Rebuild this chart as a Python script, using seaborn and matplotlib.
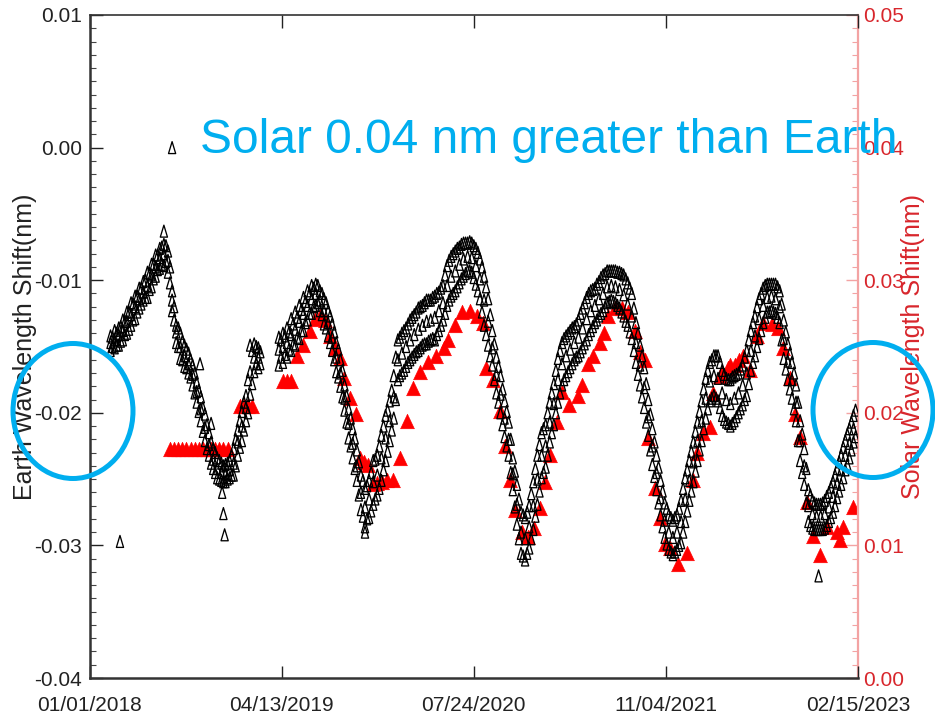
import numpy as np
import pandas as pd
import matplotlib
matplotlib.use("Agg")
import matplotlib.pyplot as plt
import matplotlib.dates as mdates
from matplotlib.path import Path
from matplotlib.patches import Ellipse
from matplotlib.ticker import FixedLocator, MultipleLocator, FuncFormatter
import seaborn as sns

# ---------------------------------------------------------------- data
START = pd.Timestamp("2018-01-01")
END = pd.Timestamp("2023-02-15")

# Earth-view wavelength shift (nm): upper, middle and lower edge of the daily scatter,
# sampled every 10 days from the start date
earth_day = list(range(50, 420, 10)) + list(range(460, 1870, 10))
earth_hi = [
    -0.0142, -0.0138, -0.0136, -0.0130, -0.0124, -0.0117, -0.0112, -0.0106, -0.0101, -0.0094,
    -0.0088, -0.0081, -0.0076, -0.0073, -0.0078, -0.0108, -0.0134, -0.0140, -0.0149, -0.0155,
    -0.0164, -0.0177, -0.0188, -0.0201, -0.0215, -0.0227, -0.0234, -0.0238, -0.0239, -0.0236,
    -0.0227, -0.0213, -0.0199, -0.0187, -0.0149, -0.0148, -0.0151,
    -0.0143, -0.0140, -0.0136, -0.0129, -0.0124, -0.0119, -0.0113, -0.0108, -0.0104, -0.0103,
    -0.0108, -0.0114, -0.0123, -0.0133, -0.0147, -0.0160, -0.0179, -0.0197, -0.0212, -0.0228,
    -0.0247, -0.0257, -0.0251, -0.0236, -0.0232, -0.0217, -0.0202, -0.0191, -0.0172, -0.0145,
    -0.0140, -0.0136, -0.0130, -0.0126, -0.0121, -0.0119, -0.0115, -0.0115, -0.0112, -0.0109,
    -0.0104, -0.0089, -0.0082, -0.0078, -0.0075, -0.0072, -0.0072, -0.0072, -0.0076, -0.0084,
    -0.0097, -0.0114, -0.0138, -0.0158, -0.0172, -0.0191, -0.0207, -0.0234, -0.0254, -0.0275,
    -0.0279, -0.0270, -0.0252, -0.0232, -0.0215, -0.0209, -0.0192, -0.0178, -0.0159, -0.0147,
    -0.0142, -0.0138, -0.0135, -0.0130, -0.0121, -0.0113, -0.0108, -0.0106, -0.0101, -0.0096,
    -0.0093, -0.0093, -0.0093, -0.0094, -0.0096, -0.0102, -0.0110, -0.0132, -0.0149, -0.0166,
    -0.0190, -0.0212, -0.0232, -0.0251, -0.0268, -0.0277, -0.0281, -0.0277, -0.0266, -0.0249,
    -0.0236, -0.0222, -0.0207, -0.0191, -0.0174, -0.0162, -0.0157, -0.0157, -0.0168, -0.0174,
    -0.0175, -0.0172, -0.0170, -0.0164, -0.0153, -0.0138, -0.0127, -0.0114, -0.0106, -0.0103,
    -0.0103, -0.0103, -0.0108, -0.0130, -0.0148, -0.0162, -0.0179, -0.0206, -0.0227, -0.0258,
    -0.0266, -0.0269, -0.0269, -0.0266, -0.0260, -0.0252, -0.0242, -0.0232, -0.0221, -0.0212,
    -0.0202,
]
earth_mid = [
    -0.0147, -0.0145, -0.0141, -0.0138, -0.0131, -0.0126, -0.0120, -0.0114, -0.0109, -0.0104,
    -0.0096, -0.0090, -0.0083, -0.0080, -0.0085, -0.0115, -0.0139, -0.0150, -0.0157, -0.0163,
    -0.0171, -0.0184, -0.0197, -0.0211, -0.0224, -0.0235, -0.0242, -0.0245, -0.0246, -0.0243,
    -0.0238, -0.0222, -0.0210, -0.0196, -0.0169, -0.0158, -0.0158,
    -0.0152, -0.0150, -0.0147, -0.0141, -0.0137, -0.0131, -0.0125, -0.0119, -0.0114, -0.0110,
    -0.0115, -0.0123, -0.0132, -0.0143, -0.0158, -0.0170, -0.0189, -0.0208, -0.0223, -0.0240,
    -0.0260, -0.0271, -0.0265, -0.0252, -0.0247, -0.0234, -0.0219, -0.0206, -0.0188, -0.0160,
    -0.0155, -0.0150, -0.0145, -0.0141, -0.0137, -0.0134, -0.0131, -0.0130, -0.0128, -0.0123,
    -0.0117, -0.0104, -0.0097, -0.0093, -0.0088, -0.0084, -0.0082, -0.0083, -0.0089, -0.0099,
    -0.0115, -0.0131, -0.0151, -0.0171, -0.0186, -0.0204, -0.0220, -0.0246, -0.0269, -0.0290,
    -0.0295, -0.0286, -0.0270, -0.0250, -0.0232, -0.0225, -0.0207, -0.0193, -0.0175, -0.0163,
    -0.0157, -0.0152, -0.0147, -0.0143, -0.0136, -0.0129, -0.0123, -0.0119, -0.0114, -0.0110,
    -0.0105, -0.0104, -0.0105, -0.0107, -0.0111, -0.0118, -0.0127, -0.0147, -0.0164, -0.0181,
    -0.0203, -0.0225, -0.0245, -0.0264, -0.0281, -0.0290, -0.0294, -0.0290, -0.0282, -0.0265,
    -0.0251, -0.0237, -0.0221, -0.0206, -0.0189, -0.0176, -0.0172, -0.0174, -0.0185, -0.0190,
    -0.0193, -0.0189, -0.0185, -0.0179, -0.0170, -0.0153, -0.0142, -0.0129, -0.0119, -0.0113,
    -0.0112, -0.0114, -0.0120, -0.0144, -0.0161, -0.0175, -0.0192, -0.0221, -0.0240, -0.0270,
    -0.0276, -0.0278, -0.0278, -0.0276, -0.0271, -0.0263, -0.0253, -0.0243, -0.0232, -0.0223,
    -0.0212,
]
earth_lo = [
    -0.0153, -0.0151, -0.0149, -0.0145, -0.0140, -0.0134, -0.0129, -0.0121, -0.0115, -0.0113,
    -0.0105, -0.0097, -0.0091, -0.0089, -0.0094, -0.0123, -0.0147, -0.0159, -0.0165, -0.0170,
    -0.0179, -0.0192, -0.0206, -0.0221, -0.0232, -0.0242, -0.0249, -0.0251, -0.0252, -0.0249,
    -0.0247, -0.0232, -0.0221, -0.0206, -0.0186, -0.0169, -0.0166,
    -0.0164, -0.0162, -0.0158, -0.0153, -0.0149, -0.0144, -0.0138, -0.0130, -0.0125, -0.0119,
    -0.0123, -0.0133, -0.0142, -0.0153, -0.0169, -0.0180, -0.0198, -0.0219, -0.0234, -0.0251,
    -0.0273, -0.0286, -0.0279, -0.0269, -0.0262, -0.0251, -0.0236, -0.0221, -0.0204, -0.0175,
    -0.0170, -0.0165, -0.0160, -0.0156, -0.0153, -0.0149, -0.0148, -0.0145, -0.0145, -0.0138,
    -0.0130, -0.0119, -0.0112, -0.0108, -0.0102, -0.0097, -0.0093, -0.0094, -0.0103, -0.0114,
    -0.0134, -0.0149, -0.0164, -0.0185, -0.0200, -0.0218, -0.0232, -0.0258, -0.0284, -0.0306,
    -0.0311, -0.0302, -0.0288, -0.0269, -0.0249, -0.0241, -0.0222, -0.0209, -0.0192, -0.0179,
    -0.0172, -0.0166, -0.0160, -0.0157, -0.0151, -0.0145, -0.0138, -0.0132, -0.0127, -0.0123,
    -0.0117, -0.0115, -0.0117, -0.0121, -0.0127, -0.0134, -0.0144, -0.0162, -0.0179, -0.0196,
    -0.0217, -0.0239, -0.0258, -0.0277, -0.0294, -0.0303, -0.0307, -0.0303, -0.0298, -0.0282,
    -0.0266, -0.0252, -0.0236, -0.0221, -0.0204, -0.0191, -0.0187, -0.0191, -0.0202, -0.0207,
    -0.0210, -0.0206, -0.0200, -0.0194, -0.0187, -0.0168, -0.0157, -0.0144, -0.0132, -0.0124,
    -0.0123, -0.0125, -0.0132, -0.0159, -0.0175, -0.0189, -0.0206, -0.0236, -0.0254, -0.0282,
    -0.0287, -0.0288, -0.0288, -0.0287, -0.0282, -0.0275, -0.0264, -0.0254, -0.0243, -0.0234,
    -0.0222,
]
# in-between readings, five days after each sample above
earth_day_b = [d + 5 for d in earth_day]
earth_upper_b = [
    -0.0143, -0.0140, -0.0135, -0.0131, -0.0124, -0.0118, -0.0112, -0.0106, -0.0100, -0.0095,
    -0.0088, -0.0081, -0.0075, -0.0074, -0.0090, -0.0120, -0.0136, -0.0146, -0.0152, -0.0160,
    -0.0170, -0.0183, -0.0196, -0.0209, -0.0222, -0.0230, -0.0236, -0.0240, -0.0238, -0.0232,
    -0.0220, -0.0206, -0.0192, -0.0175, -0.0153, -0.0150, -0.0154,
    -0.0145, -0.0142, -0.0139, -0.0133, -0.0128, -0.0122, -0.0116, -0.0110, -0.0106, -0.0104,
    -0.0110, -0.0117, -0.0127, -0.0139, -0.0152, -0.0168, -0.0187, -0.0204, -0.0219, -0.0237,
    -0.0251, -0.0255, -0.0245, -0.0235, -0.0225, -0.0210, -0.0198, -0.0183, -0.0158, -0.0143,
    -0.0138, -0.0133, -0.0128, -0.0124, -0.0120, -0.0117, -0.0115, -0.0113, -0.0110, -0.0106,
    -0.0096, -0.0085, -0.0080, -0.0076, -0.0073, -0.0072, -0.0071, -0.0074, -0.0079, -0.0090,
    -0.0105, -0.0126, -0.0148, -0.0165, -0.0182, -0.0199, -0.0220, -0.0244, -0.0265, -0.0277,
    -0.0275, -0.0261, -0.0242, -0.0224, -0.0212, -0.0200, -0.0185, -0.0168, -0.0153, -0.0144,
    -0.0140, -0.0136, -0.0133, -0.0125, -0.0117, -0.0110, -0.0107, -0.0103, -0.0098, -0.0095,
    -0.0093, -0.0093, -0.0094, -0.0095, -0.0099, -0.0106, -0.0121, -0.0140, -0.0157, -0.0178,
    -0.0201, -0.0222, -0.0241, -0.0259, -0.0272, -0.0279, -0.0279, -0.0272, -0.0257, -0.0243,
    -0.0229, -0.0214, -0.0199, -0.0182, -0.0168, -0.0160, -0.0157, -0.0162, -0.0171, -0.0175,
    -0.0173, -0.0171, -0.0167, -0.0158, -0.0145, -0.0132, -0.0120, -0.0110, -0.0104, -0.0103,
    -0.0103, -0.0105, -0.0118, -0.0139, -0.0155, -0.0170, -0.0192, -0.0216, -0.0242, -0.0262,
    -0.0268, -0.0269, -0.0268, -0.0263, -0.0256, -0.0247, -0.0237, -0.0226, -0.0216, -0.0207,
    -0.0198,
]
earth_lower_b = [
    -0.0150, -0.0149, -0.0146, -0.0141, -0.0137, -0.0130, -0.0124, -0.0118, -0.0113, -0.0107,
    -0.0099, -0.0092, -0.0088, -0.0086, -0.0102, -0.0130, -0.0150, -0.0160, -0.0166, -0.0173,
    -0.0185, -0.0199, -0.0214, -0.0227, -0.0238, -0.0245, -0.0250, -0.0252, -0.0250, -0.0247,
    -0.0240, -0.0226, -0.0213, -0.0200, -0.0178, -0.0163, -0.0163,
    -0.0158, -0.0156, -0.0152, -0.0148, -0.0143, -0.0138, -0.0132, -0.0125, -0.0120, -0.0117,
    -0.0126, -0.0136, -0.0147, -0.0160, -0.0173, -0.0188, -0.0207, -0.0225, -0.0242, -0.0262,
    -0.0278, -0.0280, -0.0274, -0.0265, -0.0257, -0.0243, -0.0229, -0.0213, -0.0190, -0.0172,
    -0.0168, -0.0162, -0.0158, -0.0154, -0.0151, -0.0148, -0.0146, -0.0144, -0.0141, -0.0134,
    -0.0125, -0.0115, -0.0110, -0.0105, -0.0099, -0.0095, -0.0093, -0.0098, -0.0108, -0.0124,
    -0.0141, -0.0157, -0.0175, -0.0192, -0.0209, -0.0225, -0.0245, -0.0271, -0.0295, -0.0308,
    -0.0306, -0.0295, -0.0278, -0.0259, -0.0245, -0.0232, -0.0215, -0.0200, -0.0185, -0.0175,
    -0.0169, -0.0163, -0.0158, -0.0154, -0.0148, -0.0141, -0.0135, -0.0130, -0.0125, -0.0120,
    -0.0116, -0.0116, -0.0119, -0.0124, -0.0131, -0.0139, -0.0153, -0.0171, -0.0188, -0.0207,
    -0.0228, -0.0248, -0.0268, -0.0286, -0.0299, -0.0305, -0.0305, -0.0300, -0.0290, -0.0274,
    -0.0259, -0.0244, -0.0228, -0.0212, -0.0197, -0.0189, -0.0189, -0.0196, -0.0205, -0.0208,
    -0.0208, -0.0203, -0.0197, -0.0190, -0.0178, -0.0162, -0.0150, -0.0138, -0.0128, -0.0124,
    -0.0124, -0.0128, -0.0145, -0.0167, -0.0182, -0.0197, -0.0221, -0.0245, -0.0268, -0.0285,
    -0.0288, -0.0288, -0.0288, -0.0285, -0.0279, -0.0270, -0.0259, -0.0249, -0.0239, -0.0228,
    -0.0218,
]
# isolated Earth points off the main band
earth_out_day = [73, 180, 200, 268, 295, 322, 325, 328, 670, 1775]
earth_out = [-0.0297, -0.0063, 0.0000, -0.0163, -0.0208, -0.0260, -0.0276, -0.0292, -0.0290, -0.0323]

# Solar-view wavelength shift (nm)
solar_day = [
    195, 205, 215, 225, 235, 245, 255, 265, 275, 285, 295, 305, 315, 325, 335,
    365, 375, 385, 395, 470, 480, 490,
    504, 519, 536, 548, 560, 572, 585, 597, 609, 619, 633, 648,
    658, 668, 678, 690, 700, 712, 724, 738, 755, 772, 787, 804, 823, 843, 862, 872,
    889, 906, 926, 943, 957, 965, 982, 999, 1011, 1023, 1035, 1052, 1067, 1082, 1096,
    1108, 1121, 1138, 1150, 1167, 1189, 1198, 1213, 1225, 1242, 1252, 1262, 1279, 1296,
    1311, 1328, 1340, 1352, 1359, 1376, 1389, 1401, 1413, 1432, 1454, 1469, 1479, 1493,
    1510, 1518, 1535, 1540, 1554, 1560, 1571, 1580, 1591, 1608, 1625, 1639, 1661, 1676,
    1688, 1705, 1717, 1730, 1747, 1761, 1778, 1795, 1820, 1827, 1834, 1859,
]
solar_nm = [
    0.0173, 0.0173, 0.0173, 0.0173, 0.0173, 0.0173, 0.0173, 0.0173, 0.0173, 0.0173,
    0.0173, 0.0173, 0.0173, 0.0173, 0.0173,
    0.0205, 0.0205, 0.0205, 0.0205, 0.0224, 0.0224, 0.0224,
    0.0243, 0.0251, 0.0262, 0.0271, 0.0273, 0.0270, 0.0258, 0.0249, 0.0241, 0.0226, 0.0211, 0.0199,
    0.0166, 0.0163, 0.0161, 0.0146, 0.0147, 0.0148, 0.0149, 0.0149, 0.0166, 0.0194, 0.0219, 0.0231,
    0.0238, 0.0243, 0.0249, 0.0255,
    0.0266, 0.0276, 0.0277, 0.0273, 0.0268, 0.0234, 0.0225, 0.0201, 0.0175, 0.0149, 0.0127,
    0.0110, 0.0106, 0.0113, 0.0128,
    0.0148, 0.0168, 0.0193, 0.0216, 0.0206, 0.0213, 0.0221, 0.0237, 0.0243, 0.0253, 0.0260,
    0.0273, 0.0279, 0.0279,
    0.0276, 0.0262, 0.0246, 0.0240, 0.0181, 0.0143, 0.0121, 0.0101, 0.0098, 0.0086, 0.0094,
    0.0149, 0.0170, 0.0185,
    0.0189, 0.0215, 0.0228, 0.0230, 0.0234, 0.0236, 0.0236, 0.0240, 0.0243, 0.0232, 0.0258,
    0.0268, 0.0267, 0.0264,
    0.0249, 0.0226, 0.0199, 0.0182, 0.0133, 0.0107, 0.0093, 0.0114, 0.0110, 0.0104, 0.0114, 0.0129,
]

tick_dates = ["2018-01-01", "2019-04-13", "2020-07-24", "2021-11-04", "2023-02-15"]
earth_ticks = [-0.04, -0.03, -0.02, -0.01, 0.00, 0.01]
solar_ticks = [0.00, 0.01, 0.02, 0.03, 0.04, 0.05]

note_text = "Solar 0.04 nm greater than Earth"

# ---------------------------------------------------------------- frames
def to_dates(days):
    return START + pd.to_timedelta(np.asarray(days), unit="D")

earth_df = pd.DataFrame({
    "date": np.concatenate([to_dates(earth_day)] * 3
                           + [to_dates(earth_day_b)] * 2
                           + [to_dates(earth_out_day)]),
    "shift": np.concatenate([earth_hi, earth_mid, earth_lo,
                             earth_upper_b, earth_lower_b, earth_out]),
})
solar_df = pd.DataFrame({"date": to_dates(solar_day), "shift": solar_nm})

# ---------------------------------------------------------------- style
sns.set_style("white")
plt.rcParams["font.family"] = ["Liberation Sans", "DejaVu Sans"]
CYAN = "#00aeef"
RED = "#ff0000"
RED_TEXT = "#d8262c"
PINK = "#f3a3a3"
INK = "#222222"

# tall, narrow open triangle for Earth; broader filled triangle for Solar
tall_tri = Path([(0, 1), (-0.6, -1), (0.6, -1), (0, 1)], closed=True)
wide_tri = Path([(0, 1), (-0.95, -1), (0.95, -1), (0, 1)], closed=True)

fig = plt.figure(figsize=(9.35, 7.28), dpi=100)
ax = fig.add_axes([90 / 935, 50 / 728, 768 / 935, 663 / 728])
ax2 = ax.twinx()

sns.scatterplot(data=solar_df, x="date", y="shift", ax=ax2, marker=wide_tri, s=110,
                color=RED, edgecolor=RED, linewidth=0.4, legend=False)

sns.scatterplot(data=earth_df, x="date", y="shift", ax=ax, marker=tall_tri, s=74,
                color="black", legend=False)
pts = ax.collections[-1]
pts.set_facecolor("none")
pts.set_edgecolor("black")
pts.set_linewidth(0.95)

# Earth axis drawn above the solar one so the open triangles sit on the red marks
ax.set_zorder(ax2.get_zorder() + 1)
ax.patch.set_visible(False)

# ---------------------------------------------------------------- axes
ax.set_xlim(START, END)
ax.xaxis.set_major_locator(FixedLocator(mdates.date2num(pd.to_datetime(tick_dates))))
ax.xaxis.set_major_formatter(mdates.DateFormatter("%m/%d/%Y"))
ax.set_xlabel("")

fmt = FuncFormatter(lambda v, _: f"{round(v, 2) + 0.0:.2f}")
ax.set_ylim(-0.04, 0.01)
ax.yaxis.set_major_locator(FixedLocator(earth_ticks))
ax.yaxis.set_minor_locator(MultipleLocator(0.001))
ax.yaxis.set_major_formatter(fmt)

ax2.set_ylim(0.0, 0.05)
ax2.yaxis.set_major_locator(FixedLocator(solar_ticks))
ax2.yaxis.set_minor_locator(MultipleLocator(0.001))
ax2.yaxis.set_major_formatter(fmt)
ax2.set_xlabel("")

ax.tick_params(axis="x", which="major", direction="in", length=9, width=1.0,
               top=True, bottom=True, labelsize=15, pad=13, colors=INK)
ax.tick_params(axis="y", which="major", direction="in", length=9, width=1.0,
               left=True, right=False, labelsize=15, pad=6, colors=INK)
ax.tick_params(axis="y", which="minor", direction="in", length=4.5, width=0.8,
               left=True, right=False, colors="#444444")
ax2.tick_params(axis="y", which="major", direction="in", length=9, width=1.0,
                labelsize=15, pad=4, color=PINK, labelcolor=RED_TEXT)
ax2.tick_params(axis="y", which="minor", direction="in", length=4.5, width=0.8,
                color=PINK)

for name in ("left", "bottom"):
    ax.spines[name].set_color("#333333")
    ax.spines[name].set_linewidth(1.8)
ax.spines["top"].set_color("#333333")
ax.spines["top"].set_linewidth(1.2)
ax.spines["right"].set_visible(False)
for name in ("left", "bottom", "top"):
    ax2.spines[name].set_visible(False)
ax2.spines["right"].set_color(PINK)
ax2.spines["right"].set_linewidth(1.6)

ax.set_ylabel("Earth Wavelength Shift(nm)", fontsize=18, color=INK)
ax.yaxis.set_label_coords(-0.069, 0.5)
ax2.set_ylabel("Solar Wavelength Shift(nm)", fontsize=18, color=RED_TEXT)
ax2.yaxis.set_label_coords(1.056, 0.5)

# ---------------------------------------------------------------- annotation
fig.text(200 / 935, 1 - 153 / 728, note_text, fontsize=34.5, color=CYAN,
         ha="left", va="baseline", zorder=5)
for cx, cy in ((73, 411), (873, 410)):
    fig.add_artist(Ellipse((cx / 935, 1 - cy / 728), 120 / 935, 135 / 728,
                           transform=fig.transFigure, fill=False,
                           edgecolor=CYAN, linewidth=3.6, zorder=5))

fig.savefig("out.png", dpi=100)
